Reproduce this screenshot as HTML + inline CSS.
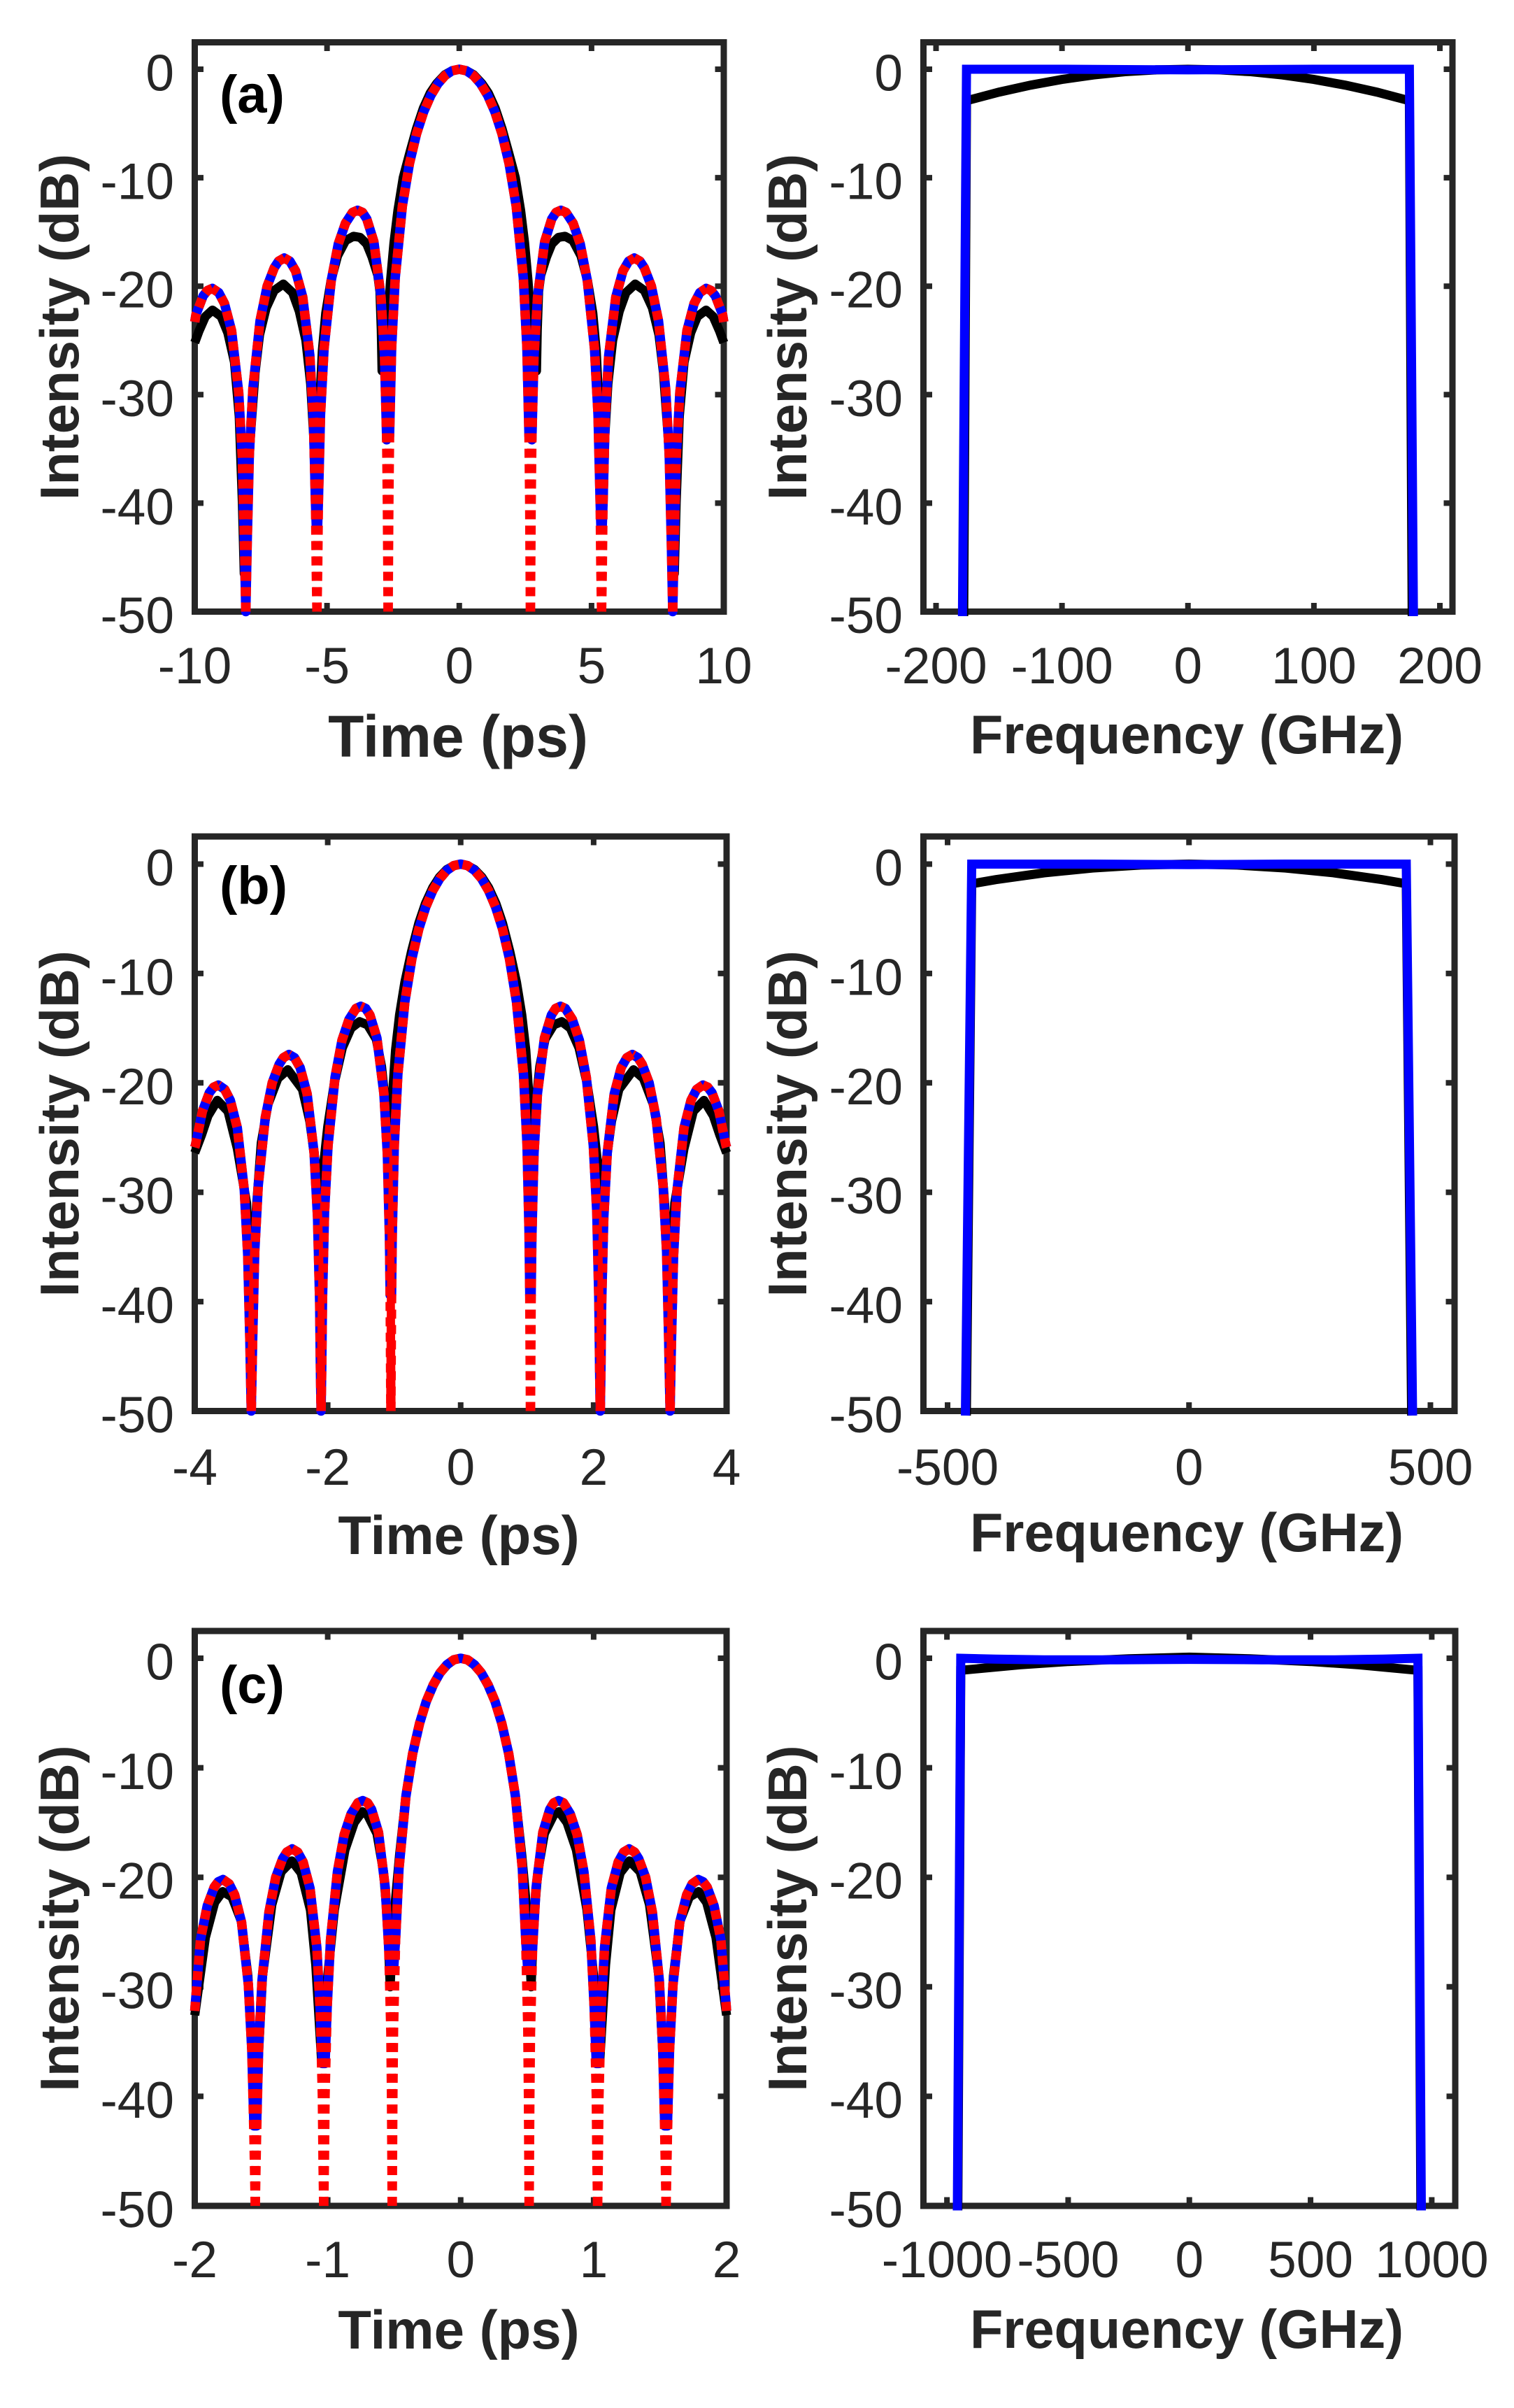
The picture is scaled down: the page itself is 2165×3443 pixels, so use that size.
<!DOCTYPE html>
<html lang="en">
<head>
<meta charset="utf-8">
<title>Pulse intensity and spectrum panels</title>
<style>
html,body{margin:0;padding:0;background:#fff;}
svg{display:block;}
text{font-family:"Liberation Sans",Arial,sans-serif;fill:#262626;}
</style>
</head>
<body>
<svg id="figure" xmlns="http://www.w3.org/2000/svg" width="2165" height="3443" viewBox="0 0 2165 3443"></svg>
<script>
// ---- Panel (a) time domain: half-curves (mirrored about t = 0)
const timeA = [0,.269,.538,.807,1.076,1.345,1.614,1.883,2.152,2.421,2.556,2.636,2.663,2.69,2.717,2.744,2.825,2.959,3.228,3.497,3.658,3.847,4.035,4.304,4.573,4.842,5.111,5.246,5.326,5.353,5.38,5.407,5.434,5.515,5.649,5.918,6.187,6.402,6.617,6.833,6.994,7.263,7.532,7.801,7.936,8.016,8.07,8.124,8.205,8.339,8.608,8.877,9.092,9.334,9.523,9.684,9.953,10];
const redA = [0,-.14,-.58,-1.33,-2.42,-3.92,-5.94,-8.69,-12.62,-19.23,-25.61,-33.81,-39.9,-50,-40.1,-34.16,-26.48,-20.97,-15.9,-13.8,-13.2,-13,-13.2,-14.2,-16.1,-19.5,-25.72,-31.86,-39.92,-45.98,-50,-46.07,-40.09,-32.29,-26.4,-21,-18.6,-17.7,-17.4,-17.7,-18.3,-20,-23.2,-29.39,-35.45,-43.47,-50,-43.58,-35.74,-29.8,-24.1,-21.6,-20.6,-20.2,-20.4,-20.9,-22.6,-23.3];
const blueA = [0,-.14,-.58,-1.33,-2.42,-3.92,-5.94,-8.69,-12.62,-19.23,-25.61,-33.81,-33.81,-33.81,-34,-34.16,-26.48,-20.97,-15.9,-13.8,-13.2,-13,-13.2,-14.2,-16.1,-19.5,-25.72,-31.86,-39.92,-42,-42,-42,-40.09,-32.29,-26.4,-21,-18.6,-17.7,-17.4,-17.7,-18.3,-20,-23.2,-29.39,-35.45,-43.47,-50,-43.58,-35.74,-29.8,-24.1,-21.6,-20.6,-20.2,-20.4,-20.9,-22.6,-23.3];
const blackTimeA = [0,.27,.54,.85,1.1,1.36,1.62,1.87,2.12,2.32,2.47,2.6,2.7,2.78,2.92,2.95,3,3.08,3.3,3.5,3.75,4,4.3,4.6,4.85,5.05,5.18,5.28,5.38,5.44,5.5,5.62,5.8,6.05,6.3,6.65,7,7.3,7.55,7.72,7.9,8.05,8.13,8.2,8.32,8.5,8.75,9,9.33,9.6,9.85,10];
const blackA = [0,-.13,-.5,-1.3,-2.2,-3.6,-5.5,-7.7,-10,-13,-16,-19.5,-23,-27.8,-27.8,-24,-20.5,-19,-17.3,-16.1,-15.5,-15.4,-15.8,-17.2,-19.5,-22.5,-26,-31,-36,-39.8,-34,-29,-25,-22.3,-20.6,-19.8,-20.4,-22,-24.5,-28,-34,-41,-46.5,-40,-32,-27,-24.3,-22.8,-22.2,-22.8,-24.2,-25.2];
// ---- Panel (b) time domain
const timeB = [0,.105,.21,.315,.42,.525,.63,.735,.84,.945,.998,1.029,1.04,1.05,1.06,1.071,1.103,1.155,1.26,1.365,1.428,1.502,1.575,1.68,1.785,1.89,1.995,2.048,2.079,2.09,2.1,2.11,2.121,2.153,2.205,2.31,2.415,2.499,2.583,2.667,2.73,2.835,2.94,3.045,3.098,3.129,3.15,3.171,3.203,3.255,3.36,3.465,3.549,3.644,3.717,3.78,3.885,3.99,4];
const redB = [0,-.14,-.58,-1.33,-2.42,-3.92,-5.94,-8.69,-12.62,-19.23,-25.61,-33.81,-39.9,-50,-40.1,-34.16,-26.48,-20.97,-15.9,-13.8,-13.2,-13,-13.2,-14.2,-16.1,-19.5,-25.72,-31.86,-39.92,-45.98,-50,-46.07,-40.09,-32.29,-26.4,-21,-18.6,-17.7,-17.4,-17.7,-18.3,-20,-23.2,-29.39,-35.45,-43.47,-50,-43.58,-35.74,-29.8,-24.1,-21.6,-20.6,-20.2,-20.4,-20.9,-22.6,-25.7,-25.9];
const blueB = [0,-.14,-.58,-1.33,-2.42,-3.92,-5.94,-8.69,-12.62,-19.23,-25.61,-33.81,-39.4,-39.4,-39.4,-34.16,-26.48,-20.97,-15.9,-13.8,-13.2,-13,-13.2,-14.2,-16.1,-19.5,-25.72,-31.86,-39.92,-45.98,-50,-46.07,-40.09,-32.29,-26.4,-21,-18.6,-17.7,-17.4,-17.7,-18.3,-20,-23.2,-29.39,-35.45,-43.47,-50,-43.58,-35.74,-29.8,-24.1,-21.6,-20.6,-20.2,-20.4,-20.9,-22.6,-25.7,-25.9];
const blackTimeB = [0,.1,.21,.32,.42,.53,.63,.74,.84,.92,.98,1.03,1.05,1.08,1.1,1.13,1.19,1.27,1.4,1.52,1.65,1.78,1.9,2,2.08,2.12,2.17,2.27,2.38,2.6,2.75,2.9,3,3.08,3.16,3.22,3.36,3.5,3.66,3.8,3.9,4];
const blackB = [0,-.13,-.5,-1.2,-2.15,-3.6,-5.4,-8,-10.8,-13.8,-17,-21.5,-26,-30,-26,-22,-18.5,-16,-14.7,-14.4,-15,-16.8,-20,-24,-28.5,-35,-28,-23.5,-20.6,-18.8,-19.6,-22,-25.5,-32,-41,-31,-26,-22.6,-21.6,-23,-24.8,-26.4];
// ---- Panel (c) time domain
const timeC = [0,.052,.103,.155,.206,.258,.309,.361,.412,.464,.489,.505,.51,.515,.52,.525,.541,.567,.618,.67,.7,.736,.773,.824,.876,.927,.979,1.004,1.02,1.025,1.03,1.035,1.04,1.056,1.082,1.133,1.185,1.226,1.267,1.308,1.339,1.391,1.442,1.494,1.519,1.535,1.545,1.555,1.571,1.597,1.648,1.7,1.741,1.787,1.823,1.854,1.906,1.957,2];
const redC = [0,-.14,-.58,-1.33,-2.42,-3.92,-5.94,-8.69,-12.62,-19.23,-25.61,-33.81,-39.9,-50,-40.1,-34.16,-26.48,-20.97,-15.9,-13.8,-13.2,-13,-13.2,-14.2,-16.1,-19.5,-25.72,-31.86,-39.92,-45.98,-50,-46.07,-40.09,-32.29,-26.4,-21,-18.6,-17.7,-17.4,-17.7,-18.3,-20,-23.2,-29.39,-35.45,-43.47,-50,-43.58,-35.74,-29.8,-24.1,-21.6,-20.6,-20.2,-20.4,-20.9,-22.6,-25.7,-32.2];
const blueC = [0,-.14,-.58,-1.33,-2.42,-3.92,-5.94,-8.69,-12.62,-19.23,-25.61,-28.5,-28.5,-28.5,-28.5,-28.5,-26.48,-20.97,-15.9,-13.8,-13.2,-13,-13.2,-14.2,-16.1,-19.5,-25.72,-31.86,-37,-37,-37,-37,-37,-32.29,-26.4,-21,-18.6,-17.7,-17.4,-17.7,-18.3,-20,-23.2,-29.39,-35.45,-42.7,-42.7,-42.7,-35.74,-29.8,-24.1,-21.6,-20.6,-20.2,-20.4,-20.9,-22.6,-25.7,-32.2];
const blackTimeC = [0,.05,.1,.155,.205,.26,.31,.36,.41,.46,.49,.52,.53,.55,.58,.63,.7,.74,.8,.87,.95,1,1.045,1.09,1.13,1.2,1.27,1.35,1.42,1.49,1.545,1.6,1.65,1.72,1.79,1.85,1.92,2];
const blackC = [0,-.14,-.58,-1.35,-2.45,-4,-6,-8.7,-12.4,-18,-22,-27,-30,-24,-19.5,-16,-14.3,-14,-15,-17.5,-23,-29,-37,-28,-23,-19.6,-18.5,-19.5,-22.5,-29,-42,-29,-24,-21.8,-21.3,-22.3,-25.5,-32.6];
// ---- Spectrum half-curves (mirrored about f = 0)
const freqBlueA = [0,100,175.8,179];
const specBlueA = [-.06,0,0,-50];
const freqBlackA = [0,25,50,75,100,125,150,175.8,178];
const specBlackA = [0,-.06,-.23,-.53,-.94,-1.47,-2.11,-2.9,-50];
const freqBlueB = [0,200,450,463];
const specBlueB = [-.05,0,0,-50];
const freqBlackB = [0,100,200,300,400,450,461];
const specBlackB = [0,-.09,-.36,-.8,-1.42,-1.8,-50];
const freqBlueC = [0,300,600,800,943,957];
const specBlueC = [-.1,-.14,-.14,-.08,0,-50];
const freqBlackC = [0,250,500,700,943,955];
const specBlackC = [.1,-.05,-.3,-.6,-1.1,-50];
// ---- Tick labels
const yTicks = [0,-10,-20,-30,-40,-50];
const xTicksA = [-10,-5,0,5,10];
const xTicksB = [-4,-2,0,2,4];
const xTicksC = [-2,-1,0,1,2];
const fTicksA = [-200,-100,0,100,200];
const fTicksB = [-500,0,500];
const fTicksC = [-1000,-500,0,500,1000];

const svg = document.getElementById('figure');
const NS = 'http://www.w3.org/2000/svg';

function make(tag, attrs, parent, text){
  const el = document.createElementNS(NS, tag);
  for (const k in attrs) el.setAttribute(k, attrs[k]);
  if (text !== undefined) el.textContent = text;
  parent.appendChild(el);
  return el;
}
function mirrored(xs, ys){
  const pts = [];
  for (let i = xs.length - 1; i > 0; i--) pts.push([-xs[i], ys[i]]);
  for (let i = 0; i < xs.length; i++) pts.push([xs[i], ys[i]]);
  return pts;
}
function monotonicRuns(pts){
  const runs = [];
  let cur = [pts[0]], dir = 0;
  for (let i = 1; i < pts.length; i++){
    const d = Math.sign(pts[i][1] - pts[i-1][1]);
    if (d !== 0 && dir !== 0 && d !== dir){ runs.push(cur); cur = [pts[i-1]]; }
    if (d !== 0) dir = d;
    cur.push(pts[i]);
  }
  runs.push(cur);
  return runs.map(r => {
    const descending = r[0][1] > r[r.length-1][1];
    return {pts: descending ? r.slice().reverse() : r, descending};
  });
}
function drawAxes(g, p, xTicks){
  const {xl, xr, yt, yb, xMax, y0, perDb} = p;
  const X = v => xl + (v + xMax) / (2 * xMax) * (xr - xl);
  const Y = v => y0 - v * perDb;
  const frame = make('rect', {x:xl, y:yt, width:xr-xl, height:yb-yt, fill:'none', stroke:'#262626', 'stroke-width':9}, g);
  
  
  yTicks.forEach(v => {
    const t = make('path', {d:`M${xl} ${Y(v)}H${xl+12.5}M${xr} ${Y(v)}H${xr-12.5}`, stroke:'#262626', 'stroke-width':8, fill:'none'}, g);
    
    
    const l = make('text', {x:xl-29.5, y:Y(v)+30.5, 'font-size':73, 'text-anchor':'end'}, g, String(v));
    
    
  });
  xTicks.forEach(v => {
    const t = make('path', {d:`M${X(v)} ${yb}V${yb-12.5}M${X(v)} ${yt}V${yt+12.5}`, stroke:'#262626', 'stroke-width':8, fill:'none'}, g);
    
    
    const l = make('text', {x:X(v), y:yb+p.tickDy, 'font-size':73, 'text-anchor':'middle'}, g, String(v));
    
    
  });
  const xt = make('text', {x:p.xTitleX, y:p.xTitleY, 'font-size':p.xTitleSize, 'font-weight':'bold', 'text-anchor':'middle'}, g, p.xTitle);
  
  
  const cy = (yt + yb) / 2;
  const yTitle = make('text', {transform:`translate(${p.yTitleX} ${cy}) rotate(-90)`, x:0, y:0, 'font-size':77.5, 'font-weight':'bold', 'text-anchor':'middle'}, g, 'Intensity (dB)');
  
  
  return {X, Y};
}
function pathOf(pts, X, Y){
  return pts.map((q, i) => (i ? 'L' : 'M') + X(q[0]).toFixed(2) + ' ' + Y(q[1]).toFixed(2)).join('');
}
function drawTimePanel(p){
  const g = make('g', {}, svg);
  
  
  const {X, Y} = drawAxes(g, p, p.xTicks);
  const black = make('path', {d:pathOf(mirrored(p.blackT, p.black), X, Y), fill:'none', stroke:'#000', 'stroke-width':13, 'stroke-linejoin':'round'}, g);
  
  
  const blue = make('path', {d:pathOf(mirrored(p.t, p.blue), X, Y), fill:'none', stroke:'#0000ff', 'stroke-width':13.5, 'stroke-linejoin':'round'}, g);
  
  
  const redGroup = make('g', {}, g);
  
  
  monotonicRuns(mirrored(p.t, p.red)).forEach(run => {
    const low = run.pts[0];
    const nullIndex = Math.round(low[0] / p.nullSpacing);
    const shift = run.descending && low[1] <= -49 && p.denseNulls.includes(nullIndex) ? 11 : 0;
    const seg = make('path', {d:pathOf(run.pts, X, Y), fill:'none', stroke:'#ff0000', 'stroke-width':13.5, 'stroke-dasharray':'13 9', 'stroke-dashoffset':shift, 'stroke-linejoin':'round'}, redGroup);
    
    
  });
  const tag = make('text', {x:314, y:p.tagY, 'font-size':76, 'font-weight':'bold', style:'fill:#000'}, g, p.tag);
  
  
}
function drawSpecPanel(p){
  const g = make('g', {}, svg);
  
  
  const {X, Y} = drawAxes(g, p, p.xTicks);
  const black = make('path', {d:pathOf(mirrored(p.blackF, p.black), X, Y), fill:'none', stroke:'#000', 'stroke-width':13, 'stroke-linejoin':'miter', 'stroke-linecap':'square'}, g);
  
  
  const blue = make('path', {d:pathOf(mirrored(p.blueF, p.blue), X, Y), fill:'none', stroke:'#0000ff', 'stroke-width':13, 'stroke-linejoin':'miter', 'stroke-linecap':'square'}, g);
  
  
}

const L = 278.5;
drawTimePanel({id:'a', tag:'(a)', tagY:161, xl:L, xr:1035, yt:60.5, yb:874.5, xMax:10, y0:99, perDb:15.51, tickDy:102.5,
  xTicks:xTicksA, xTitle:'Time (ps)', xTitleX:655, xTitleY:1082, xTitleSize:84, yTitleX:112,
  t:timeA, red:redA, blue:blueA, blackT:blackTimeA, black:blackA, nullSpacing:2.69, denseNulls:[]});
drawTimePanel({id:'b', tag:'(b)', tagY:1292, xl:L, xr:1039, yt:1196, yb:2017.5, xMax:4, y0:1235.5, perDb:15.64, tickDy:105.5,
  xTicks:xTicksB, xTitle:'Time (ps)', xTitleX:656, xTitleY:2222, xTitleSize:78, yTitleX:112,
  t:timeB, red:redB, blue:blueB, blackT:blackTimeB, black:blackB, nullSpacing:1.05, denseNulls:[-3,-2,-1,2,3]});
drawTimePanel({id:'c', tag:'(c)', tagY:2435, xl:L, xr:1039, yt:2332, yb:3154, xMax:2, y0:2371, perDb:15.66, tickDy:102,
  xTicks:xTicksC, xTitle:'Time (ps)', xTitleX:656, xTitleY:3358, xTitleSize:78, yTitleX:112,
  t:timeC, red:redC, blue:blueC, blackT:blackTimeC, black:blackC, nullSpacing:.515, denseNulls:[]});

const R = 1320.5;
drawSpecPanel({id:'a', xl:R, xr:2077, yt:60.5, yb:874.5, xMax:210, y0:99, perDb:15.51, tickDy:102.5,
  xTicks:fTicksA, xTitle:'Frequency (GHz)', xTitleX:1697, xTitleY:1077, xTitleSize:77.5, yTitleX:1153,
  blueF:freqBlueA, blue:specBlueA, blackF:freqBlackA, black:specBlackA});
drawSpecPanel({id:'b', xl:R, xr:2080, yt:1196, yb:2017.5, xMax:550, y0:1235.5, perDb:15.64, tickDy:105.5,
  xTicks:fTicksB, xTitle:'Frequency (GHz)', xTitleX:1697, xTitleY:2218, xTitleSize:77.5, yTitleX:1153,
  blueF:freqBlueB, blue:specBlueB, blackF:freqBlackB, black:specBlackB});
drawSpecPanel({id:'c', xl:R, xr:2081, yt:2332, yb:3154, xMax:1097, y0:2371, perDb:15.66, tickDy:102,
  xTicks:fTicksC, xTitle:'Frequency (GHz)', xTitleX:1697, xTitleY:3357, xTitleSize:77.5, yTitleX:1153,
  blueF:freqBlueC, blue:specBlueC, blackF:freqBlackC, black:specBlackC});
</script>
</body>
</html>
